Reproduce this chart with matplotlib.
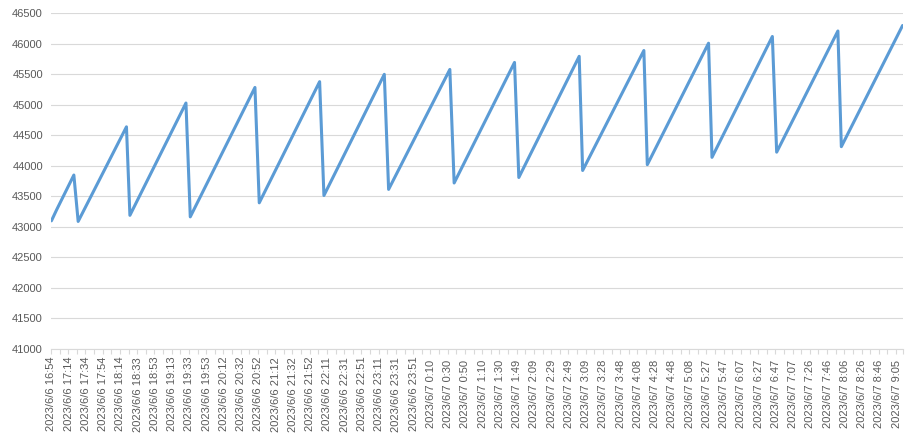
import matplotlib
matplotlib.use('Agg')
import matplotlib.pyplot as plt
import numpy as np

# category labels shown on the axis (every 20th category)
labels = ['2023/6/6 16:54', '2023/6/6 17:14', '2023/6/6 17:34', '2023/6/6 17:54',
          '2023/6/6 18:14', '2023/6/6 18:33', '2023/6/6 18:53', '2023/6/6 19:13',
          '2023/6/6 19:33', '2023/6/6 19:53', '2023/6/6 20:12', '2023/6/6 20:32',
          '2023/6/6 20:52', '2023/6/6 21:12', '2023/6/6 21:32', '2023/6/6 21:52',
          '2023/6/6 22:11', '2023/6/6 22:31', '2023/6/6 22:51', '2023/6/6 23:11',
          '2023/6/6 23:31', '2023/6/6 23:51', '2023/6/7 0:10', '2023/6/7 0:30',
          '2023/6/7 0:50', '2023/6/7 1:10', '2023/6/7 1:30', '2023/6/7 1:49',
          '2023/6/7 2:09', '2023/6/7 2:29', '2023/6/7 2:49', '2023/6/7 3:09',
          '2023/6/7 3:28', '2023/6/7 3:48', '2023/6/7 4:08', '2023/6/7 4:28',
          '2023/6/7 4:48', '2023/6/7 5:08', '2023/6/7 5:27', '2023/6/7 5:47',
          '2023/6/7 6:07', '2023/6/7 6:27', '2023/6/7 6:47', '2023/6/7 7:07',
          '2023/6/7 7:26', '2023/6/7 7:46', '2023/6/7 8:06', '2023/6/7 8:26',
          '2023/6/7 8:46', '2023/6/7 9:05']
label_step = 20
n_cat = 988

# corners of the sawtooth (category index, value)
idx = [0, 6, 26, 31, 87, 91, 156, 161, 236, 241, 311, 316, 386, 391, 462, 467,
       537, 542, 612, 616, 687, 691, 762, 766, 836, 841, 912, 916, 987]
vals = [43100, 43280, 43850, 43090, 44640, 43190, 45030, 43165, 45285, 43395,
        45380, 43515, 45500, 43615, 45580, 43720, 45695, 43810, 45795, 43925,
        45890, 44020, 46010, 44140, 46120, 44225, 46210, 44315, 46300]

plt.rcParams['font.family'] = ['Liberation Sans', 'DejaVu Sans']
plt.rcParams['font.size'] = 8

fig = plt.figure(figsize=(9.21, 4.37), dpi=100)
ax = fig.add_axes([51/921, 1-349/437, 852/921, 335.7/437])

ax.plot(idx, vals, color='#5b9bd5', lw=2.2, solid_joinstyle='round', solid_capstyle='round')

ax.set_xlim(-0.5, n_cat - 0.5)
ax.set_ylim(41000, 46500)
ax.set_yticks(range(41000, 46501, 500))
ax.grid(axis='y', color='#d9d9d9', lw=0.8)
ax.set_axisbelow(True)

ax.set_xticks(np.arange(len(labels)) * label_step)
ax.set_xticklabels(labels, rotation=90, va='center', ha='center')
minor = list(np.arange(-0.5, n_cat, 10)) + [n_cat - 0.5]
ax.set_xticks(minor, minor=True)

ax.tick_params(axis='x', which='major', length=0, pad=32.5, colors='#595959')
ax.tick_params(axis='x', which='minor', length=3.6, width=0.8, color='#d9d9d9')
ax.tick_params(axis='y', length=0, pad=5.8, colors='#595959')

for s in ['left', 'right', 'top']:
    ax.spines[s].set_visible(False)
ax.spines['bottom'].set_color('#d9d9d9')
ax.spines['bottom'].set_linewidth(0.8)

fig.savefig('out.png', dpi=100)
